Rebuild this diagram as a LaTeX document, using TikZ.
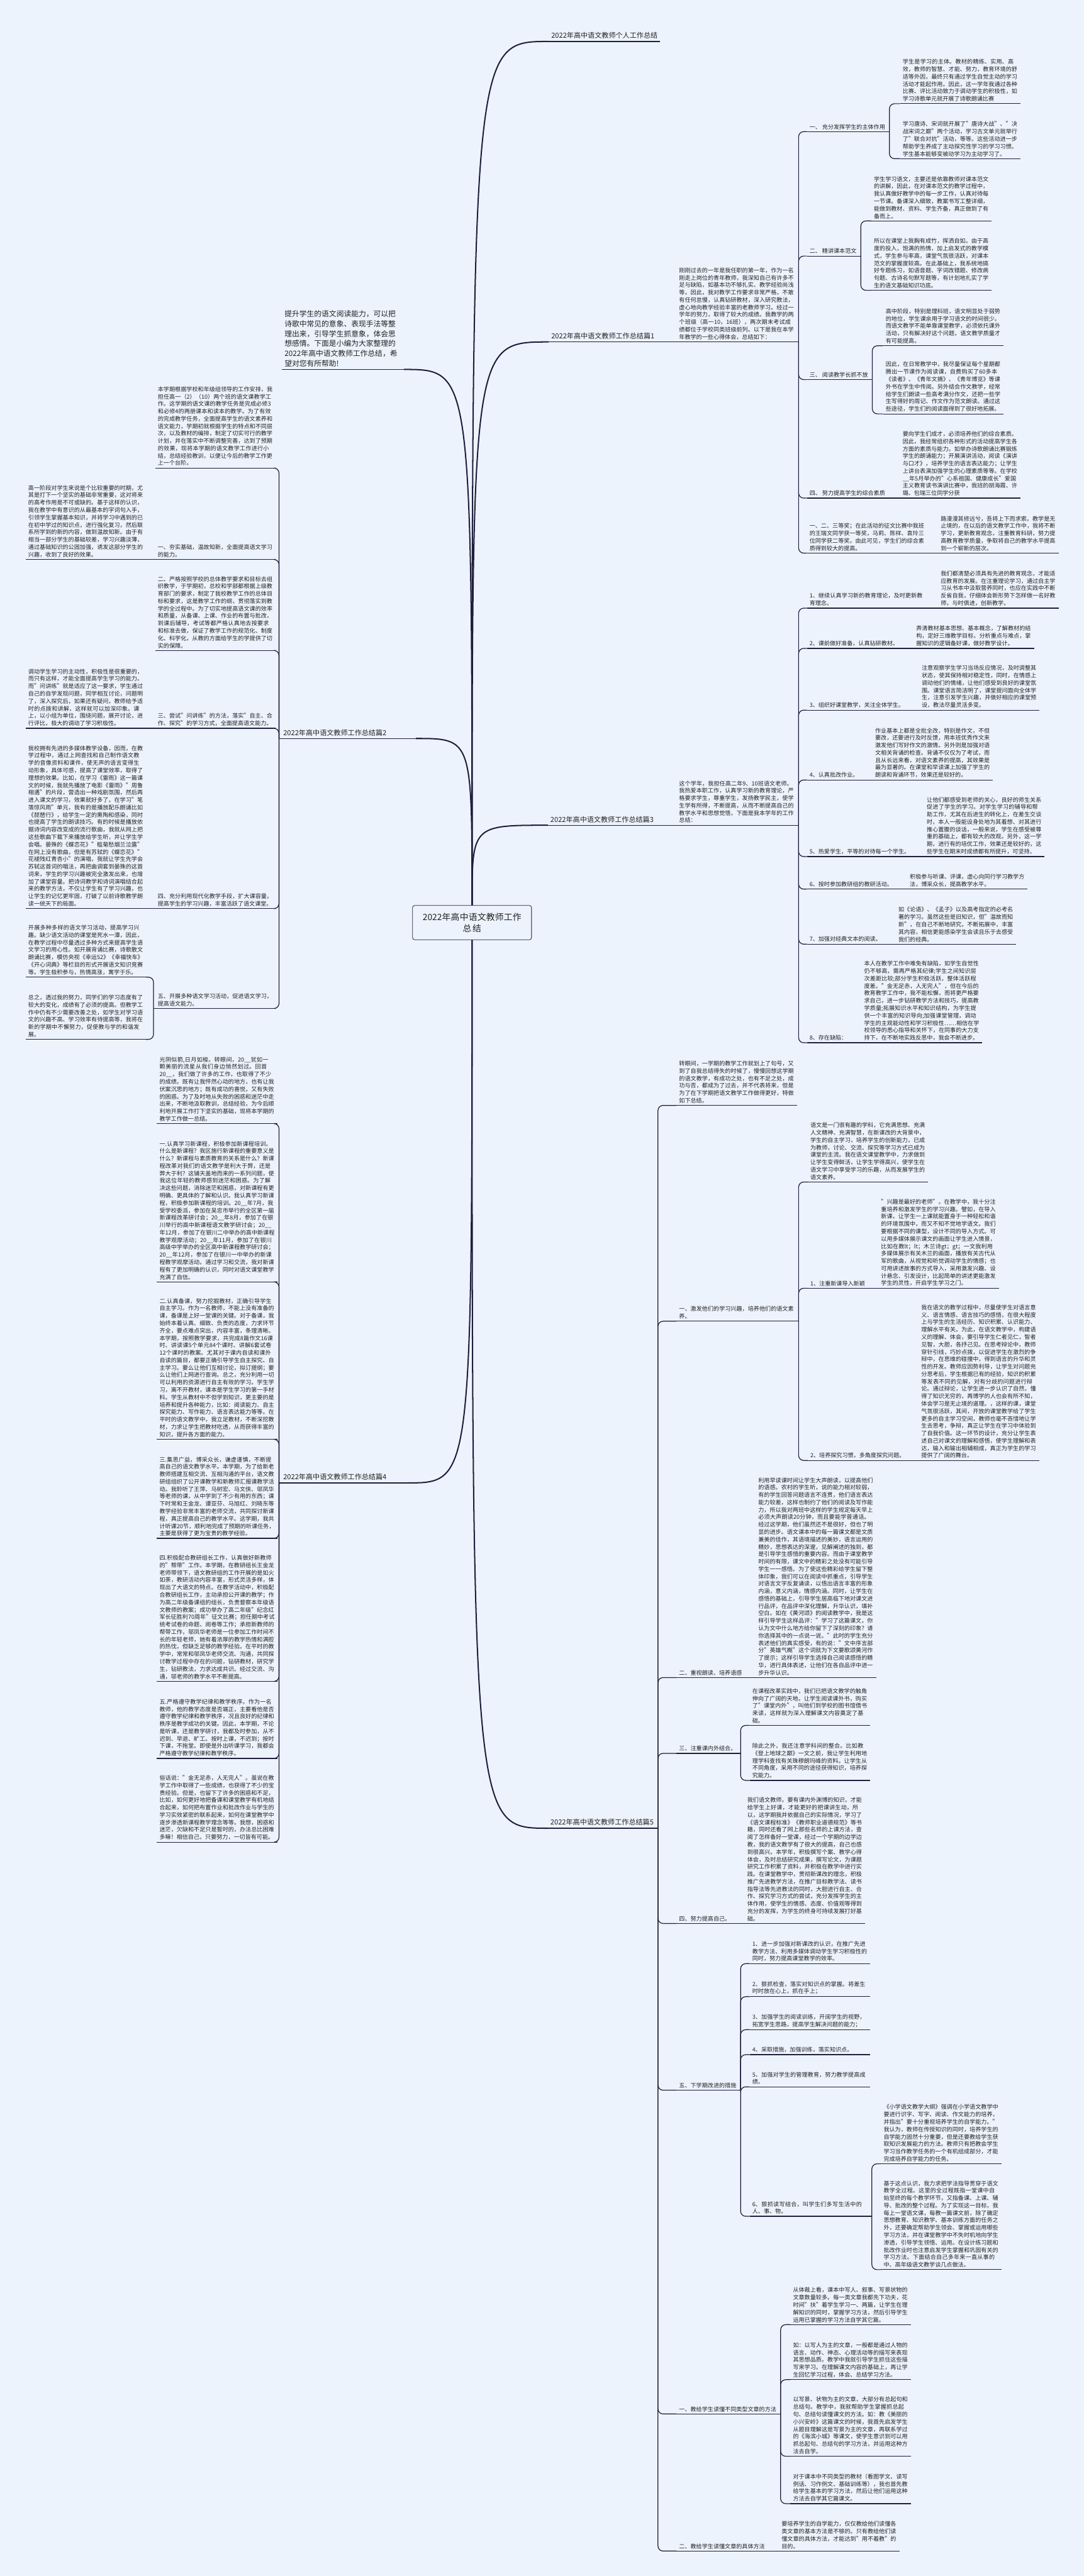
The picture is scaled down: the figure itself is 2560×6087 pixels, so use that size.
\documentclass[tikz,border=0pt]{standalone}
\usepackage{fontspec}
\setmainfont{Noto Sans CJK SC}
\XeTeXlinebreaklocale "zh"
\XeTeXlinebreakskip=0pt plus 1pt
\setlength\parindent{0pt}
\usetikzlibrary{calc}

\definecolor{bgblue}{HTML}{EDF3FD}
\definecolor{linec}{HTML}{1E1E3C}
\definecolor{textc}{HTML}{222222}

\newcommand\leaffont{\fontsize{13.5}{17.5}\selectfont}
\newcommand\branchfont{\fontsize{16.5}{21}\selectfont}
\newcommand\rootfont{\fontsize{20.5}{27}\selectfont}
\newcommand\introfont{\fontsize{17.5}{23.3}\selectfont}

\tikzset{
  leaf/.style={anchor=south west, inner xsep=6pt, inner ysep=5pt, text width=272pt,
    align=left, font=\leaffont, text=textc},
  item/.style={anchor=south west, inner xsep=6pt, inner ysep=5pt, font=\leaffont, text=textc},
  branch/.style={anchor=south west, inner xsep=6pt, inner ysep=6pt, font=\branchfont, text=textc},
  root/.style={draw=linec, line width=1.2pt, rounded corners=5pt, fill=bgblue,
    minimum width=281pt, minimum height=81pt, text width=262pt, align=center,
    font=\rootfont, text=textc},
  link/.style={draw=linec, line width=1.8pt, rounded corners=12pt},
  trunk/.style={draw=linec, line width=3pt}
}

\begin{document}
\begin{tikzpicture}[x=1pt, y=-1pt]
  \useasboundingbox (0,0) rectangle (2560,6087);
  \fill[bgblue] (0,0) rectangle (2560,6087);

  % centre
  \node[root] (root) at (1115,2180) {2022年高中语文教师工作\\总结};

  % summary (left, top)
  \node[anchor=south west, inner xsep=6pt, inner ysep=6pt, text width=276pt, align=left,
    font=\introfont, text=textc] (intro) at (666,873)
    {提升学生的语文阅读能力，可以把\\诗歌中常见的意象、表现手法等整\\理出来，引导学生抓意象，体会思\\想感情。下面是小编为大家整理的\\2022年高中语文教师工作总结，希\\望对您有所帮助!};

  % branch: personal summary
  \node[branch] (pA) at (1296,98) {2022年高中语文教师个人工作总结};

  % branch 1
  \node[branch] (p1) at (1296,808) {2022年高中语文教师工作总结篇1};
  \node[leaf] (p1i) at (1598,808) {刚刚过去的一年是我任职的第一年，作为一名刚走上岗位的青年教师，我深知自己有许多不足与缺陷，如基本功不够扎实、教学经验尚浅等。因此，我对教学工作要求非常严格，不敢有任何怠慢，认真钻研教材，深入研究教法，虚心地向教学经验丰富的老教师学习。经过一学年的努力，取得了较大的成绩。我教学的两个班级（高一10，16班），两次期末考试成绩都位于学校同类班级前列。以下是我在本学年教学的一些心得体会，总结如下：};
  \node[item] (p1a) at (1906,311) {一、 充分发挥学生的主体作用};
  \node[leaf] (p1a1) at (2126,245) {学生是学习的主体。教材的精练、实用、高效，教师的智慧、才能、努力，教育环境的舒适等外因，最终只有通过学生自觉主动的学习活动才能起作用。因此，这一学年我通过各种比赛、评比活动致力于调动学生的积极性，如学习诗歌单元就开展了诗歌朗诵比赛};
  \node[leaf] (p1a2) at (2126,375) {学习唐诗、宋词就开展了"唐诗大战"、"决战宋词之巅"两个活动，学习古文单元就举行了"联合对抗"活动，等等。这些活动进一步帮助学生养成了主动探究性学习的学习习惯。学生基本能够变被动学习为主动学习了。};
  \node[item] (p1b) at (1906,605) {二、 精讲课本范文};
  \node[leaf] (p1b1) at (2058,522) {学生学习语文，主要还是依靠教师对课本范文的讲解，因此，在对课本范文的教学过程中，我认真做好教学中的每一步工作，认真对待每一节课。备课深入细致，教案书写工整详细，能做到教材、资料、学生齐备，真正做到了有备而上。};
  \node[leaf] (p1b2) at (2058,686) {所以在课堂上我胸有成竹，挥洒自如。由于高度的投入，饱满的热情，加上启发式的教学模式，学生参与率高，课堂气氛很活跃，对课本范文的掌握度较高。在此基础上，我系统地搞好专题练习，如语音题、字词改错题、修改病句题、古诗名句默写题等，有计划地扎实了学生的语文基础知识功底。};
  \node[item] (p1c) at (1906,897) {三、 阅读教学长抓不放};
  \node[leaf] (p1c1) at (2086,817) {高中阶段，特别是理科班，语文明显处于弱势的地位，学生课余用于学习语文的时间很少。而语文教学不能单靠课堂教学，必须依托课外活动，只有解决好这个问题，语文教学质量才有可能提高。};
  \node[leaf] (p1c2) at (2086,978) {因此，在日常教学中，我尽量保证每个星期都腾出一节课作为阅读课，自费购买了60多本《读者》、《青年文摘》、《青年博览》等课外书在学生中传阅。另外结合作文教学，经常给学生们朗读一些高考满分作文，还把一些学生写得好的周记、作文作为范文朗读。通过这些途径，学生们的阅读面得到了很好地拓展。};
  \node[item] (p1d) at (1906,1177) {四、 努力提高学生的综合素质};
  \node[leaf] (p1d1) at (2126,1177) {要向学生们成才，必须培养他们的综合素质。因此，我经常组织各种形式的活动提高学生各方面的素质与能力。如举办诗歌朗诵比赛锻炼学生的朗诵能力；开展演讲活动，阅读《演讲与口才》，培养学生的语言表达能力；让学生上讲台表演加强学生的心理素质等等。在学校\_\_年5月举办的"心系祖国、健康成长"爱国主义教育读书演讲比赛中，我班的胡海霞、许璐、包瑞三位同学分获};
  \node[leaf] (p1e) at (1906,1307) {一、二、三等奖；在此活动的征文比赛中我班的王瑞文同学获一等奖，马莉、陈祥、袁玲三位同学获二等奖。由此可见，学生们的综合素质得到较大的提高。};
  \node[leaf] (p1e1) at (2216,1307) {路漫漫其修远兮，吾将上下而求索。教学是无止境的，在以后的语文教学工作中，我将不断学习，更新教育观念，注重教育科研，努力提高教育教学质量，争取将自己的教学水平提高到一个崭新的层次。};

  % branch 3
  \node[branch] (p3) at (1294,1950) {2022年高中语文教师工作总结篇3};
  \node[leaf] (p3i) at (1598,1950) {这个学年，我担任高二年9、10班语文老师。我热爱本职工作，认真学习新的教育理论，严格要求学生，尊重学生，发扬教学民主，使学生学有所得，不断提高，从而不断提高自己的教学水平和思想觉悟，下面是我本学年的工作总结：};
  \node[leaf] (p3a) at (1906,1437) {1、继续认真学习新的教育理论，及时更新教育理念。};
  \node[leaf] (p3a1) at (2216,1437) {我们都清楚必须具有先进的教育观念，才能适应教育的发展。在注重理论学习，通过自主学习从书本中汲取营养同时，也应在实践中不断反省自我，仔细体会新形势下怎样做一名好教师，与时俱进，创新教学。};
  \node[item] (p3b) at (1906,1532) {2、课前做好准备，认真钻研教材。};
  \node[leaf] (p3b1) at (2158,1532) {弄清教材基本思想、基本概念，了解教材的结构，定好三维教学目标，分析重点与难点，掌握知识的逻辑备好课，做好教学设计。};
  \node[item] (p3c) at (1906,1678) {3、组织好课堂教学，关注全体学生。};
  \node[leaf] (p3c1) at (2171,1678) {注意观察学生学习当场反应情况，及时调整其状态，使其保持相对稳定性，同时，在情感上调动他们的情绪，让他们感受到良好的课堂氛围。课堂语言简洁明了，课堂提问面向全体学生，注意引发学生兴趣，并做好相应的课堂预设，教法尽量灵活多变。};
  \node[item] (p3d) at (1906,1843) {4、认真批改作业。};
  \node[leaf] (p3d1) at (2061,1843) {作业基本上都是全批全改，特别是作文，不但要改，还要进行及时反馈，用本班优秀作文来激发他们写好作文的激情。另外则是加强对语文相关背诵的检查。背诵不仅仅为了考试，而且从长远来看，对语文素养的提高，其效果是最为显著的。在课堂和早读课上加强了学生的朗读和背诵环节，效果还是较好的。};
  \node[item] (p3e) at (1906,2024) {5、热爱学生，平等的对待每一个学生。};
  \node[leaf] (p3e1) at (2183,2024) {让他们都感受到老师的关心，良好的师生关系促进了学生的学习。对学生学习的辅导和帮助工作，尤其在后进生的转化上，在差生交谈时，本人一般能设身处地为其着想、对其进行推心置腹的谈话，一般来说，学生在感受被尊重的基础上，都有较大的改观。另外，这一学期，进行有的培优工作，效果还是较好的，这些学生在期末时成绩都有所提升，可坚持。};
  \node[item] (p3f) at (1906,2101) {6、按时参加教研组的教研活动。};
  \node[leaf] (p3f1) at (2143,2101) {积极参与听课、评课，虚心向同行学习教学方法，博采众长，提高教学水平。};
  \node[item] (p3g) at (1906,2231) {7、加强对经典文本的阅读。};
  \node[leaf] (p3g1) at (2116,2231) {如《论语》、《孟子》以及高考指定的必考名著的学习。虽然这些是旧知识，但"温故而知新"，在自己不断地研究，不断拓展中，丰富其内容，相信更能感染学生会读且乐于去感受我们的经典。};
  \node[item] (p3h) at (1906,2464) {8、存在缺陷：};
  \node[leaf] (p3h1) at (2035,2464) {本人在教学工作中难免有缺陷，如学生自觉性仍不够高，需再严格其纪律;学生之间知识层次差距比较;部分学生积极活跃，整体活跃程度差。"金无足赤，人无完人"，但在今后的教育教学工作中，我不能松懈，而将更严格要求自己，进一步钻研教学方法和技巧，提高教学质量;拓展知识水平和知识结构，为学生提供一个丰富的知识导向;加强课堂管理，调动学生的主观能动性和学习积极性……相信在学校领导的悉心指导和关怀下，在同事的大力支持下，在不断地实践反思中，我会不断进步。};

  % branch 5
  \node[branch] (p5) at (1294,4320) {2022年高中语文教师工作总结篇5};
  \node[leaf] (p5a) at (1598,2612) {转眼间，一学期的教学工作就划上了句号，又到了自我总结得失的时候了，慢慢回想这学期的语文教学，有成功之处，也有不足之处，成功与否，都成为了过去，并不代表将来，但是为了在下学期把语文教学工作做得更好，特做如下总结。};
  \node[leaf] (p5b) at (1598,3122) {一、激发他们的学习兴趣，培养他们的语文素养。};
  \node[leaf] (p5b1) at (1908,2793) {语文是一门很有趣的学科，它充满思想、充满人文精神、充满智慧，在新课改的大背景中，学生的自主学习，培养学生的创新能力，已成为教师，讨论、交流、探究等学习方式已成为课堂的主流。我在语文课堂教学中，力求做到让学生变得鲜活，让学生学得高兴，使学生在语文学习中享受学习的乐趣，从而发展学生的语文素养。};
  \node[item] (p5b2) at (1908,3044) {1、注重新课导入新颖};
  \node[leaf] (p5b21) at (2075,3044) {"兴趣是最好的老师"。在教学中，我十分注重培养和激发学生的学习兴趣。譬如，在导入新课，让学生一上课就能置身于一种轻松和谐的环境氛围中，而又不知不觉地学语文。我们要根据不同的课型，设计不同的导入方式。可以用多媒体展示课文的画面让学生进入情景，比如在教lt；lt；木兰诗gt；gt；一文我利用多媒体展示有关木兰的画面，播放有关古代从军的歌曲，从视觉和听觉调动学生的情感；也可用讲述故事的方式导入，采用激发兴趣、设计悬念、引发设计，比起简单的讲述更能激发学生的灵性，开启学生学习之门。};
  \node[item] (p5b3) at (1908,3451) {2、培养探究习惯，多角度探究问题。};
  \node[leaf] (p5b31) at (2170,3451) {我在语文的教学过程中，尽量使学生对语言意义、语言情感、语言技巧的感悟，在很大程度上与学生的生活经历、知识积累、认识能力、理解水平有关。为此，在语文教学中，构建语义的理解、体会，要引导学生仁者见仁，智者见智，大胆，各抒己见。在思考辩论中，教师穿针引线，巧妙点拨，以促进学生在激烈的争辩中，在思维的碰撞中，得到语言的升华和灵性的开发。教师应因势利导，让学生对问题充分思考后，学生根据已有的经验，知识的积累等发表不同的见解，对有分歧的问题进行辩论。通过辩论，让学生进一步认识了自然，懂得了知识无穷的，再博学的人也会有所不知，体会学习是无止境的道理。，这样的课，课堂气氛很活跃，其间，开放的课堂教学给了学生更多的自主学习空间，教师也毫不吝惜地让学生去思考，争辩，真正让学生在学习中体验到了自我价值。这一环节的设计，充分让学生表述自己对课文的理解和感悟，使学生理解和表达，输入和输出相辅相成，真正为学生的学习提供了广阔的舞台。};
  \node[item] (p5c) at (1598,3964) {二、重视朗读、培养语感};
  \node[leaf] (p5c1) at (1785,3964) {利用早读课时间让学生大声朗读，以提高他们的语感。农村的学生听，说的能力相对较弱，有的学生回答问题语言不连贯，他们语言表达能力较差，这样也制约了他们的阅读及写作能力，所以我对两班中这样的学生规定每天早上必须大声朗读20分钟，而且要能学普通话。经过这学期，他们虽然还不是很好，但也了明显的进步。语文课本中的每一篇课文都是文质兼美的佳作，其语境描述的美妙，语言运用的精妙，思想表达的深邃，见解阐述的独到，都是引导学生感悟的重要内容。而由于课堂教学时间的有限，课文中的精彩之处没有可能引导学生一一感悟。为了使这些精彩给学生留下整体印象，我们可以在阅读中抓重点，引导学生对语言文字反复诵读，以悟出语言丰富的形象内涵，意义内涵，情感内涵。同时，让学生在感悟的基础上，引导学生居高临下地对课文进行品评，在品评中深化理解，升华认识，填补空白。如在《黄河颂》的阅读教学中，我是这样引导学生这样品评："学习了这篇课文，你认为文中什么地方给你留下了深刻的印象？请你选择其中的一点说一说。"此时的学生充分表述他们的真实感受，有的说："文中序言部分"英雄气概"这个词就为下文要歌颂黄河作了提示；这样引导学生选择自己阅读感悟的精华，进行具体表述，让他们在各自品评中进一步升华认识。};
  \node[item] (p5d) at (1598,4143) {三、注重课内外结合。};
  \node[leaf] (p5d1) at (1771,4077) {在课程改革实践中，我们已把语文教学的触角伸向了广阔的天地。让学生阅读课外书，购买了"课堂内外"，叫他们到学校的图书馆借书来读，这样就为深入理解课文内容奠定了基础。};
  \node[leaf] (p5d2) at (1771,4207) {除此之外，我还注意学科间的整合。比如教《登上地球之巅》一文之前，我让学生利用地理学科查找有关珠穆朗玛峰的资料。让学生从不同角度，采用不同的途径获得知识，培养探究能力。};
  \node[item] (p5e) at (1598,4545) {四、努力提高自己。};
  \node[leaf] (p5e1) at (1759,4545) {我们语文教师，要有课内外渊博的知识，才能给学生上好课，才能更好的把课讲生动，所以，这学期我并依据自己的实际情况，学习了《语文课程标准》《教师职业道德规范》等书籍，同时还看了网上那些名师的上课方法，查阅了怎样备好一堂课，经过一个学期的边学边教，我的语文教学有了很大的提高，自己也感到很高兴。本学年，积极撰写个案、教学心得体会，及时总结研究成果，撰写论文，为课题研究工作积累了资料，并积极在教学中进行实践。在课堂教学中，贯彻新课改的理念，积极推广先进教学方法，在推广目标教学法、读书指导法等先进教法的同时，大胆进行自主、合作、探究学习方式的尝试，充分发挥学生的主体作用，使学生的情感、态度、价值观等得到充分的发挥，为学生的终身可持续发展打好基础。};
  \node[item] (p5f) at (1598,4939) {五、下学期改进的措施};
  \node[leaf] (p5f1) at (1771,4640) {1、进一步加强对新课改的认识，在推广先进教学方法、利用多媒体调动学生学习积极性的同时，努力提高课堂教学的效率。};
  \node[leaf] (p5f2) at (1771,4718) {2、狠抓检查，落实对知识点的掌握。将差生时时放在心上，抓在手上；};
  \node[leaf] (p5f3) at (1771,4796) {3、加强学生的阅读训练，开阔学生的视野，拓宽学生思路，提高学生解决问题的能力；};
  \node[leaf] (p5f4) at (1771,4855) {4、采取措施，加强训练，落实知识点。};
  \node[leaf] (p5f5) at (1771,4931) {5、加强对学生的管理教育，努力教学提高成绩。};
  \node[leaf] (p5f6) at (1771,5237) {6、狠抓读写结合，叫学生们多写生活中的人、事、物。};
  \node[leaf] (p5f61) at (2081,5113) {《小学语文教学大纲》强调在小学语文教学中要进行识字、写字、阅读、作文能力的培养，并指出"要十分重视培养学生的自学能力。"我认为，教师在传授知识的同时，培养学生的自学能力固然十分重要，但是还要教给学生获取知识发展能力的方法。教师只有把教会学生学习当作教学任务的一个有机组成部分，才能完成培养自学能力的任务。};
  \node[leaf] (p5f62) at (2081,5363) {基于这点认识，我力求把学法指导贯穿于语文教学全过程。这里的全过程既指一堂课中自始至终的每个教学环节，又指备课、上课、辅导、批改的整个过程。为了实现这一目标，我每上一堂语文课，每教一篇课文前，除了确定思想教育、知识教学、基本训练方面的任务之外，还要确定帮助学生领会、掌握或运用哪些学习方法，并在课堂教学中不失时机地向学生渗透，引导学生领悟、运用。在设计练习题和批改作业时也注意启发学生掌握和巩固有关的学习方法。下面结合自己多年来一直从事的中、高年级语文教学谈几点做法。};
  \node[item] (p5g) at (1598,5704) {一、教给学生读懂不同类型文章的方法};
  \node[leaf] (p5g1) at (1867,5493) {从体裁上看，课本中写人、叙事、写景状物的文章数量较多。每一类文章我都先下功夫，花时间"扶"着学生学习一、两篇，让学生在理解知识的同时，掌握学习方法，然后引导学生运用已掌握的学习方法自学其它篇。};
  \node[leaf] (p5g2) at (1867,5623) {如：以写人为主的文章，一般都是通过人物的语言、动作、神态、心理活动等的描写来表现其思想品质。教学中我就引导学生抓住这些描写来学习。在理解课文内容的基础上，再让学生回忆学习过程，体会、总结学习方法。};
  \node[leaf] (p5g3) at (1867,5804) {以写景、状物为主的文章，大部分有总起句和总结句。教学中，我就帮助学生掌握抓总起句、总结句读懂课文的方法。如：教《美丽的小兴安岭》这篇课文的时候，我首先启发学生从题目理解这是写景为主的文章，再联系学过的《海滨小城》等课文，使学生意识到可以用抓总起句、总结句的学习方法，并运用这种方法去自学。};
  \node[leaf] (p5g4) at (1867,5916) {对于课本中不同类型的教材（看图学文、读写例话、习作例文、基础训练等），我也首先教给学生基本的学习方法，然后让他们运用这种方法去自学其它篇课文。};
  \node[item] (p5h) at (1598,6028) {二、教给学生读懂文章的具体方法};
  \node[leaf] (p5h1) at (1840,6028) {要培养学生的自学能力，仅仅教给他们读懂各类文章的基本方法是不够的。只有教给他们读懂文章的具体方法，才能达到"用不着教"的目的。};

  % branch 2 (left)
  \node[branch, text width=307pt] (p2) at (663,1745) {2022年高中语文教师工作总结篇2};
  \node[leaf, anchor=south east] (p2a) at (651,1106) {本学期根据学校和年级组领导的工作安排，我担任高一（2）（10）两个班的语文课教学工作。这学期的语文课的教学任务是完成必修3和必修4的两册课本和读本的教学。为了有效的完成教学任务，全面提高学生的语文素养和语文能力，学期初就根据学生的特点和不同层次，以及教材的编排，制定了切实可行的教学计划，并在落实中不断调整完善，达到了预期的效果，现将本学期的语文教学工作进行小结，总结经验教训，以便让今后的教学工作更上一个台阶。};
  \node[leaf, anchor=south east] (p2b) at (651,1322) {一、夯实基础，温故知新，全面提高语文学习的能力。};
  \node[leaf, anchor=south east] (p2b1) at (345,1322) {高一阶段对学生来说是个比较重要的时期，尤其是打下一个坚实的基础非常重要，这对将来的高考作用是不可或缺的。基于这样的认识，我在教学中有意识的从最基本的字词句入手，引领学生掌握基本知识，并将学习中遇到的已在初中学过的知识点，进行强化复习，然后联系所学到的新的内容，做到温故知新。由于有相当一部分学生的基础较差，学习兴趣淡薄，通过基础知识的公固加强，诱发这部分学生的兴趣，收到了良好的效果。};
  \node[leaf, anchor=south east] (p2c) at (651,1537) {二、严格按照学校的总体教学要求和目标去组织教学，于学期初，总校和学部都根据上级教育部门的要求，制定了我校教学工作的总体目标和要求，这是教学工作的纲，贯彻落实到教学的全过程中。为了切实地提高语文课的效率和质量，从备课、上课、作业的布置与批改，到课后辅导，考试等都严格认真地去按要求和标准去做，保证了教学工作的规范化、制度化、科学化，从教的方面给学生的学提供了切实的保障。};
  \node[leaf, anchor=south east] (p2d) at (651,1721) {三、尝试"问讲练"的方法，落实"自主、合作、探究"的学习方式，全面提高语文能力。};
  \node[leaf, anchor=south east] (p2d1) at (345,1721) {调动学生学习的主动性，积极性是很重要的，而只有这样，才能全面提高学生学习的能力。而"问讲练"就是适应了这一要求，学生通过自己的自学发现问题，同学相互讨论，问题明了，深入探究后，如果还有疑问，教师给予适时的点拨和讲解，这样就可以加深印象。课上，以小组为单位，围绕问题，展开讨论，进行评比，极大的调动了学习积极性。};
  \node[leaf, anchor=south east] (p2e) at (651,2147) {四、充分利用现代化教学手段，扩大课容量，提高学生的学习兴趣，丰富活跃了语文课堂。};
  \node[leaf, anchor=south east] (p2e1) at (345,2147) {我校拥有先进的多媒体教学设备，因而，在教学过程中，通过上网查找和自己制作语文教学的音像资料和课件，使无声的语言变得生动形象，具体可感，提高了课堂效率，取得了理想的效果。比如，在学习《雷雨》这一篇课文的时候，我就先播放了电影《雷雨》"周鲁相遇"的片段，营造出一种戏剧氛围，然后再进入课文的学习，效果就好多了。在学习"笔落惊风雨"单元，我有的是播放配乐朗诵比如《琵琶行》，给学生一定的熏陶和感染，同时也提高了学生的朗读技巧。有的时候是播放依据诗词内容改变成的流行歌曲，我就从网上把这些歌曲下载下来播放给学生听，并让学生学会唱。晏殊的《蝶恋花》"槛菊愁烟兰泣露"在网上没有歌曲，但是有苏轼的《蝶恋花》"花褪残红青杏小"的演唱，我就让学生先学会苏轼这首词的唱法，再把曲调套到晏殊的这首词来，学生的学习兴趣被完全激发出来，也增加了课堂容量。把诗词教学和诗词演唱结合起来的教学方法，不仅让学生有了学习兴趣，也让学生的记忆更牢固，打破了以前诗歌教学朗读一统天下的局面。};
  \node[leaf, anchor=south east] (p2f) at (651,2383) {五、开展多种语文学习活动，促进语文学习，提高语文能力。};
  \node[leaf, anchor=south east] (p2f1) at (345,2309) {开展多种多样的语文学习活动，提高学习兴趣。缺少语文活动的课堂是死水一潭，因此，在教学过程中尽量透过多种方式来提高学生语文学习的用心性。如开展背诵比赛，诗歌散文朗诵比赛，模仿央视《幸运52》《幸福快车》《开心词典》等栏目的形式开展语文知识竞赛等。学生极积参与，热情高涨，寓学于乐。};
  \node[leaf, anchor=south east] (p2f2) at (345,2456) {总之，透过我的努力，同学们的学习态度有了较大的变化，成绩有了必须的提高。但教学工作中仍有不少需要改善之处，如学生对学习语文的兴趣不高、学习效率有待提高等，我将在新的学期中不懈努力，促使教与学的和谐发展。};

  % branch 4 (left)
  \node[branch, text width=287pt] (p4) at (663,3504) {2022年高中语文教师工作总结篇4};
  \node[leaf, anchor=south east] (p4a) at (655,2655) {光阴似箭,日月如梭。转眼间，20\_\_犹如一颗美丽的流星从我们身边悄然划过。回首20\_\_，我们做了许多的工作，也取得了不少的成绩。既有让我怦然心动的地方，也有让我伏案沉思的地方；既有成功的喜悦，又有失败的困惑。为了及时地从失败的困惑和迷茫中走出来，不断地汲取教训，总结经验，为今后顺利地开展工作打下坚实的基础，现将本学期的教学工作做一总结。};
  \node[leaf, anchor=south east] (p4b) at (655,3029) {一.认真学习新课程，积极参加新课程培训。什么是新课程？我区施行新课程的重要意义是什么？新课程与素质教育的关系是什么？新课程改革对我们的语文教学是利大于弊，还是弊大于利？这铺天盖地而来的一系列问题，使我这位年轻的教师感到迷茫和困惑。为了解决这些问题，消除迷茫和困惑，对新课程有更明确、更具体的了解和认识。我认真学习新课程，积极参加新课程的培训。20\_\_年7月，我受学校委派，参加在吴忠市举行的全区第一届新课程改革研讨会；20\_\_年8月，参加了在银川举行的高中新课程语文教学研讨会；20\_\_年12月，参加了在银川二中举办的高中新课程教学观摩活动；20\_\_年11月，参加了在银川高级中学举办的全区高中新课程教学研讨会；20\_\_年12月，参加了在银川一中举办的新课程教学观摩活动。通过学习和交流，我对新课程有了更加明确的认识，同时对语文课堂教学充满了自信。};
  \node[leaf, anchor=south east] (p4c) at (655,3401) {二.认真备课，努力挖掘教材，正确引导学生自主学习。作为一名教师，不能上没有准备的课，备课是上好一堂课的关键。对于备课，我始终本着认真、细致、负责的态度，力求环节齐全，要点难点突出，内容丰富，条理清晰。本学期，按照教学要求，共完成8篇作文16课时、讲读课5个单元84个课时、讲解6套试卷12个课时的教案。尤其对于课内自读和课外自读的篇目，都要正确引导学生自主探究、自主学习。要么让他们互相讨论，拟订提纲；要么让他们上网进行查询。总之，充分利用一切可以利用的资源进行自主有效的学习。学生学习，离不开教材，课本是学生学习的第一手材料。学生从教材中不但学到知识，更主要的是培养和提升各种能力，比如：阅读能力、自主探究能力、写作能力、语言表达能力等等。在平时的语文教学中，我立足教材，不断深挖教材，力求让学生把教材吃透，从而获得丰富的知识，提升各方面的能力。};
  \node[leaf, anchor=south east] (p4d) at (655,3635) {三.集思广益，博采众长，谦虚谨慎，不断提高自己的语文教学水平。本学期，为了给新老教师搭建互相交流、互相沟通的平台，语文教研组组织了公开课教学和新教师汇报课教学活动。我聆听了王萍、马树宏、马文侠、邬凤华等老师的课，从中学到了不少有用的东西；课下时常和王金龙、谭亚芬、马旭红、刘晓东等教学经验非常丰富的老师交流，共同探讨新课程，真正提高自己的教学水平。这学期，我共计听课20节，顺利地完成了预期的听课任务，主要是获得了更为宝贵的教学经验。};
  \node[leaf, anchor=south east] (p4e) at (655,3973) {四.积极配合教研组长工作，认真做好新教师的"帮带"工作。本学期，在教研组长王金龙老师带领下，语文教研组的工作开展的是如火如荼，教研活动内容丰富，形式灵活多样，体现出了大语文的特点。在教学活动中，积极配合教研组长工作，主动承担公开课的教学；作为高二年级备课组的组长，负责督察本年级语文教师的教案；成功举办了高二年级"纪念红军长征胜利70周年"征文比赛；担任期中考试统考试卷的命题、阅卷等工作；承担新教师的帮带工作，邬凤华老师是一位参加工作时间不长的年轻老师，她有着浓厚的教学热情和满腔的热忱，但缺乏足够的教学经验。在平时的教学中，常常和邬凤华老师交流、沟通，共同探讨教学过程中存在的问题，钻研教材，研究学生，钻研教法，力求达成共识。经过交流、沟通，邬老师的教学水平不断提高。};
  \node[leaf, anchor=south east] (p4f) at (655,4155) {五.严格遵守教学纪律和教学秩序。作为一名教师，他的教学态度是否端正，主要看他是否遵守教学纪律和教学秩序，况且良好的纪律和秩序是教学成功的关键。因此，本学期，不论是听课，还是教学研讨，我都及时参加，从不迟到、早退、旷工。按时上课，不迟到；按时下课，不拖堂。即使是外出听课学习，我都会严格遵守教学纪律和教学秩序。};
  \node[leaf, anchor=south east] (p4g) at (655,4353) {俗话说："金无足赤，人无完人"。虽说在教学工作中取得了一些成绩，也获得了不少的宝贵经验。但是，也留下了许多的困惑和不足，比如，如何更好地把备课和课堂教学有机地结合起来，如何把布置作业和批改作业与学生的学习实效紧密的联系起来，如何在课堂教学中逐步渗透新课程教学理念等等。我想，困惑和迷茫，欠缺和不足只是暂时的，办法总比困难多嘛！相信自己，只要努力，一切皆有可能。};

  % trunk curves from the centre
  \foreach \b in {pA,p1,p3}
    \draw[trunk] (root.north) .. controls (root.north |- \b.south west) .. (\b.south west);
  \foreach \b in {intro,p2}
    \draw[trunk] (root.north) .. controls (root.north |- \b.south east) .. (\b.south east);
  \draw[trunk] (root.south) .. controls (root.south |- p4.south east) .. (p4.south east);
  \draw[trunk] (root.south) .. controls (root.south |- p5.south west) .. (p5.south west);

  % underlines
  \foreach \n in {intro,pA,p1,p1i,p1a,p1a1,p1a2,p1b,p1b1,p1b2,p1c,p1c1,p1c2,p1d,p1d1,p1e,p1e1,
      p3,p3i,p3a,p3a1,p3b,p3b1,p3c,p3c1,p3d,p3d1,p3e,p3e1,p3f,p3f1,p3g,p3g1,p3h,p3h1,
      p5,p5a,p5b,p5b1,p5b2,p5b21,p5b3,p5b31,p5c,p5c1,p5d,p5d1,p5d2,p5e,p5e1,
      p5f,p5f1,p5f2,p5f3,p5f4,p5f5,p5f6,p5f61,p5f62,p5g,p5g1,p5g2,p5g3,p5g4,p5h,p5h1,
      p2,p2a,p2b,p2b1,p2c,p2d,p2d1,p2e,p2e1,p2f,p2f1,p2f2,
      p4,p4a,p4b,p4c,p4d,p4e,p4f,p4g}
    \draw[link] (\n.south west) -- (\n.south east);

  % straight joins (same height)
  \foreach \a/\b in {p1/p1i,p1d/p1d1,p1e/p1e1,p3/p3i,p3a/p3a1,p3b/p3b1,p3c/p3c1,p3d/p3d1,
      p3e/p3e1,p3f/p3f1,p3g/p3g1,p3h/p3h1,p5b2/p5b21,p5b3/p5b31,p5c/p5c1,p5e/p5e1,p5h/p5h1}
    \draw[link] (\a.south east) -- (\b.south west);
  \foreach \a/\b in {p2b/p2b1,p2d/p2d1,p2e/p2e1}
    \draw[link] (\a.south west) -- (\b.south east);

  % spines, right side
  \foreach \a/\b in {p1i/p1a,p1i/p1b,p1i/p1c,p1i/p1d,p1i/p1e,
      p1a/p1a1,p1a/p1a2,p1b/p1b1,p1b/p1b2,p1c/p1c1,p1c/p1c2,
      p3i/p3a,p3i/p3b,p3i/p3c,p3i/p3d,p3i/p3e,p3i/p3f,p3i/p3g,p3i/p3h,
      p5/p5a,p5/p5b,p5/p5c,p5/p5d,p5/p5e,p5/p5f,p5/p5g,p5/p5h,
      p5b/p5b1,p5b/p5b2,p5b/p5b3,p5d/p5d1,p5d/p5d2,
      p5f/p5f1,p5f/p5f2,p5f/p5f3,p5f/p5f4,p5f/p5f5,p5f/p5f6,p5f6/p5f61,p5f6/p5f62,
      p5g/p5g1,p5g/p5g2,p5g/p5g3,p5g/p5g4}
    \draw[link] ([xshift=4pt]\a.south east) |- (\b.south west);

  % spines, left side
  \foreach \a/\b in {p2/p2a,p2/p2b,p2/p2c,p2/p2d,p2/p2e,p2/p2f,p2f/p2f1,p2f/p2f2,
      p4/p4a,p4/p4b,p4/p4c,p4/p4d,p4/p4e,p4/p4f,p4/p4g}
    \draw[link] ([xshift=-4pt]\a.south west) |- (\b.south east);
  \foreach \a in {p1i,p1a,p1b,p1c,p3i,p5,p5b,p5d,p5f,p5f6,p5g}
    \draw[link] (\a.south east) -- ++(4,0);
  \foreach \a in {p2,p2f,p4}
    \draw[link] (\a.south west) -- ++(-4,0);
\end{tikzpicture}
\end{document}
